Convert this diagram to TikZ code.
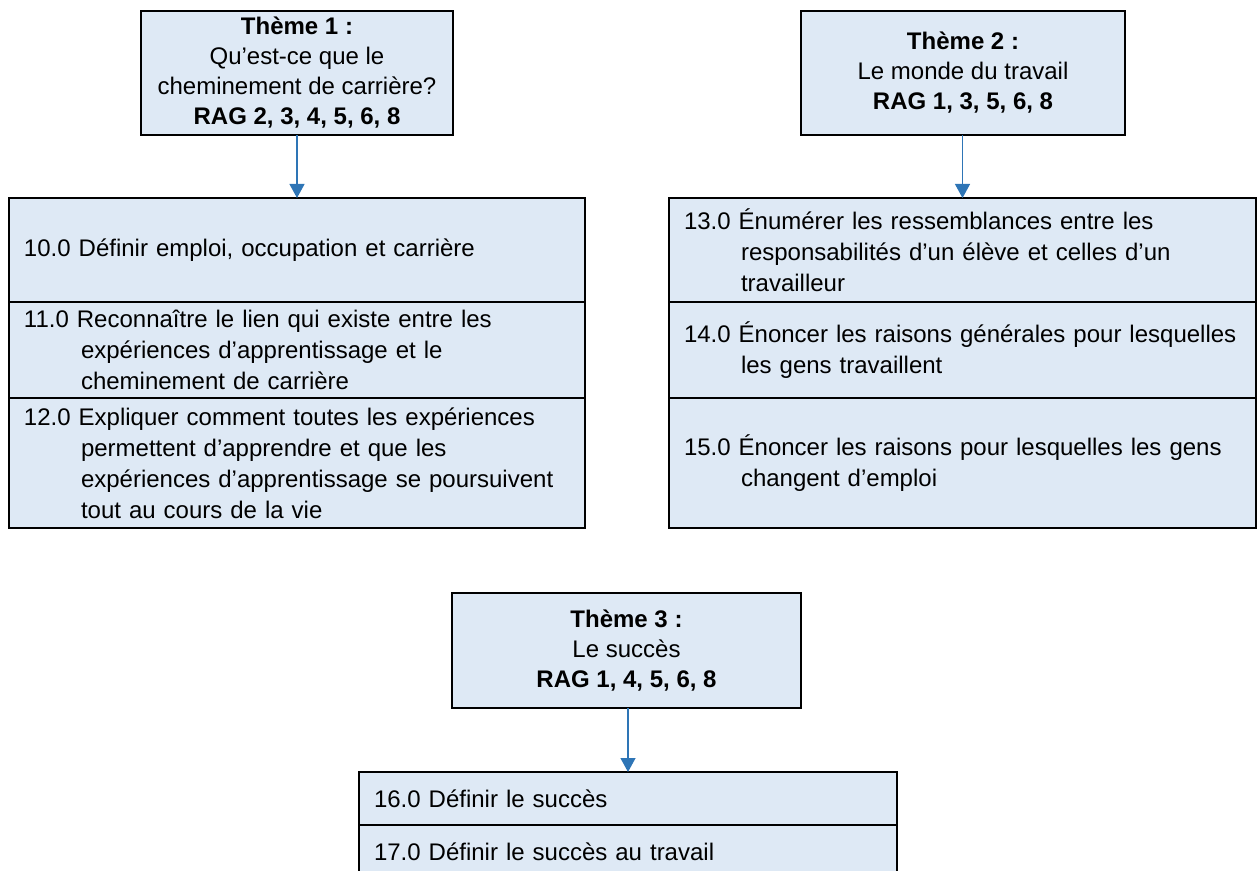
\documentclass[tikz,border=0pt]{standalone}
\usepackage{fontspec}
\setmainfont{Liberation Sans}
\usepackage{xcolor}
\usetikzlibrary{arrows.meta, positioning}

\definecolor{boxfill}{RGB}{222,233,245}
\definecolor{linkblue}{RGB}{46,117,182}
\newcommand{\cont}{\newline\hspace*{28.5pt}}

\begin{document}
\begin{tikzpicture}[x=0.5pt, y=-0.5pt,
    every node/.style={font=\fontsize{12}{15.5}\selectfont},
    theme/.style={draw, line width=1pt, fill=boxfill, align=center, inner sep=0pt, outer sep=0pt,
        font=\fontsize{12}{15}\selectfont},
    cell/.style={draw, line width=1pt, fill=boxfill, align=left, inner xsep=7.5pt, inner ysep=0pt, outer sep=0pt},
    link/.style={draw=linkblue, line width=0.6pt, -{Triangle[length=7pt, width=7.5pt]}}]
    \useasboundingbox (0,0) rectangle (1258,871);
    \clip (0,0) rectangle (1258,871);

    % theme 1
    \node[theme, minimum width=156pt, minimum height=62pt] (t1) at (297,73)
        {\textbf{Thème 1 :}\\Qu’est-ce que le\\cheminement de carrière?\\\textbf{RAG 2, 3, 4, 5, 6, 8}};
    \node[cell, text width=273pt, minimum height=52pt, anchor=north] (c10) at (297,198)
        {10.0 Définir emploi, occupation et carrière};
    \node[cell, text width=273pt, minimum height=48pt, below=0pt of c10] (c11)
        {11.0 Reconnaître le lien qui existe entre les\cont expériences d’apprentissage et le\cont cheminement de carrière};
    \node[cell, text width=273pt, minimum height=65pt, below=0pt of c11] (c12)
        {12.0 Expliquer comment toutes les expériences\cont permettent d’apprendre et que les\cont expériences d’apprentissage se poursuivent\cont tout au cours de la vie};
    \draw[link] (t1) -- (c10);

    % theme 2
    \node[theme, minimum width=162pt, minimum height=62pt] (t2) at (963,73)
        {\textbf{Thème 2 :}\\Le monde du travail\\\textbf{RAG 1, 3, 5, 6, 8}};
    \node[cell, text width=278.5pt, minimum height=52pt, anchor=north] (c13) at (962.5,198)
        {13.0 Énumérer les ressemblances entre les\cont responsabilités d’un élève et celles d’un\cont travailleur};
    \node[cell, text width=278.5pt, minimum height=48pt, below=0pt of c13] (c14)
        {14.0 Énoncer les raisons générales pour lesquelles\cont les gens travaillent};
    \node[cell, text width=278.5pt, minimum height=65pt, below=0pt of c14] (c15)
        {15.0 Énoncer les raisons pour lesquelles les gens\cont changent d’emploi};
    \draw[link] (t2.south -| c13.north) -- (c13.north);

    % theme 3
    \node[theme, minimum width=174.5pt, minimum height=57.5pt] (t3) at (626.5,650.5)
        {\textbf{Thème 3 :}\\Le succès\\\textbf{RAG 1, 4, 5, 6, 8}};
    \node[cell, text width=254pt, minimum height=26.5pt, anchor=north] (c16) at (628,772)
        {16.0 Définir le succès};
    \node[cell, text width=254pt, minimum height=26.5pt, below=0pt of c16] (c17)
        {17.0 Définir le succès au travail};
    \draw[link] (t3.south -| c16.north) -- (c16.north);
\end{tikzpicture}
\end{document}
